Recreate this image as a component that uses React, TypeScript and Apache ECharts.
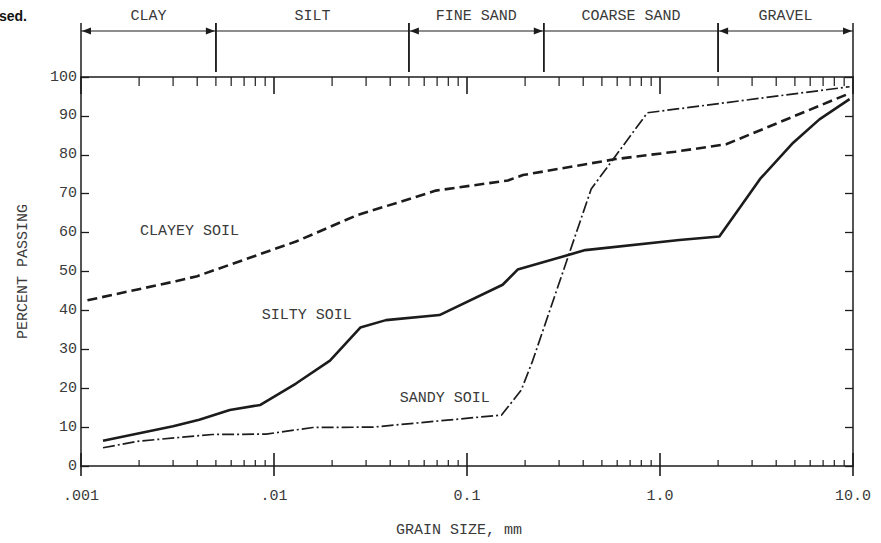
import React, { useEffect, useRef } from 'react';
import * as echarts from 'echarts';

// ---- data (grain size in mm, percent passing) ----
const clayeySize = [0.00108, 0.0031, 0.004, 0.013, 0.027, 0.045, 0.069, 0.163, 0.195, 0.59, 1.2, 2.2, 9.6];
const clayeyPct = [42.6, 47.5, 48.8, 57.7, 64.5, 67.9, 70.8, 73.4, 74.8, 78.9, 80.8, 82.7, 95.8];

const siltySize = [0.0013, 0.003, 0.0041, 0.0059, 0.0085, 0.013, 0.0195, 0.028, 0.038, 0.072, 0.153, 0.183, 0.41, 1.26, 2.03, 2.6, 3.3, 4.9, 6.7, 9.6];
const siltyPct = [6.5, 10.2, 11.9, 14.4, 15.7, 21.2, 27.1, 35.6, 37.5, 38.8, 46.6, 50.5, 55.5, 58.1, 59.0, 66.5, 73.8, 83.1, 89.1, 94.3];

const sandySize = [0.0013, 0.002, 0.0048, 0.0091, 0.0159, 0.0326, 0.151, 0.191, 0.219, 0.44, 0.86, 9.6];
const sandyPct = [4.7, 6.4, 8.1, 8.2, 9.9, 10.0, 13.1, 19.5, 27.1, 71.2, 90.8, 97.5];

const xTickValues = [0.001, 0.01, 0.1, 1, 10];
const xTickLabels = ['.001', '.01', '0.1', '1.0', '10.0'];
const minorTickValues = [
  0.002, 0.003, 0.004, 0.005, 0.006, 0.007, 0.008, 0.009,
  0.02, 0.03, 0.04, 0.05, 0.06, 0.07, 0.08, 0.09,
  0.2, 0.3, 0.4, 0.5, 0.6, 0.7, 0.8, 0.9,
  2, 3, 4, 5, 6, 7, 8, 9,
];

const zoneNames = ['CLAY', 'SILT', 'FINE SAND', 'COARSE SAND', 'GRAVEL'];
const zoneBounds = [0.001, 0.005, 0.05, 0.25, 2, 10];
const zoneArrows = [true, false, true, false, true];

const curveNames = ['CLAYEY SOIL', 'SILTY SOIL', 'SANDY SOIL'];

const X_MIN = 0.001;
const X_MAX = 10;
const INK = '#1c1c1c';
const TEXT = '#3a3a3a';
const MONO = "'Liberation Mono', 'DejaVu Sans Mono', monospace";

const zip = (xs: number[], ys: number[]) => xs.map((x, i) => [x, ys[i]]);

export default function App() {
  const ref = useRef<HTMLDivElement>(null);

  useEffect(() => {
    const chart = echarts.init(ref.current!, null, { renderer: 'svg' });

    const tickData = [
      ...xTickValues.map((v) => [v, 0, 1]),
      ...minorTickValues.map((v) => [v, 0, 0]),
    ];
    const zoneData = zoneNames.map((_, i) => [zoneBounds[i], zoneBounds[i + 1], 100, i]);
    const labelData = [
      [0.00202, 60.3, 0],
      [0.00865, 38.7, 1],
      [0.0448, 17.3, 2],
    ];

    const option: any = {
      animation: false,
      backgroundColor: '#ffffff',
      grid: { left: 81, right: 28, top: 77, bottom: 73, containLabel: false },
      graphic: [
        {
          type: 'text',
          left: -1,
          top: 9,
          style: { text: 'sed.', font: "bold 14px 'Liberation Sans', Arial, sans-serif", fill: '#111' },
        },
      ],
      xAxis: [
        {
          type: 'log',
          logBase: 10,
          min: X_MIN,
          max: X_MAX,
          position: 'bottom',
          axisLine: { show: true, onZero: false, lineStyle: { color: INK, width: 1.5 } },
          axisTick: { show: false },
          splitLine: { show: false },
          axisLabel: {
            margin: 23,
            color: TEXT,
            fontFamily: MONO,
            fontSize: 15,
            formatter: (v: number) => {
              const i = xTickValues.findIndex((t) => Math.abs(Math.log10(t) - Math.log10(v)) < 1e-6);
              return i >= 0 ? xTickLabels[i] : '';
            },
          },
          name: 'GRAIN SIZE, mm',
          nameLocation: 'middle',
          nameGap: 57,
          nameTextStyle: { color: TEXT, fontFamily: MONO, fontSize: 15, padding: [0, 16, 0, 0] },
        },
        {
          type: 'log',
          logBase: 10,
          min: X_MIN,
          max: X_MAX,
          position: 'top',
          axisLine: { show: true, onZero: false, lineStyle: { color: INK, width: 1.5 } },
          axisTick: { show: false },
          axisLabel: { show: false },
          splitLine: { show: false },
        },
      ],
      yAxis: [
        {
          type: 'value',
          min: 0,
          max: 100,
          interval: 10,
          position: 'left',
          axisLine: { show: true, onZero: false, lineStyle: { color: INK, width: 1.5 } },
          axisTick: { show: true, inside: true, length: 8, lineStyle: { color: INK, width: 1.3 } },
          splitLine: { show: false },
          axisLabel: { margin: 4, color: TEXT, fontFamily: MONO, fontSize: 15 },
          name: 'PERCENT PASSING',
          nameLocation: 'middle',
          nameGap: 50,
          nameRotate: 90,
          nameTextStyle: { color: TEXT, fontFamily: MONO, fontSize: 15 },
        },
        {
          type: 'value',
          min: 0,
          max: 100,
          interval: 10,
          position: 'right',
          axisLine: { show: true, onZero: false, lineStyle: { color: INK, width: 1.5 } },
          axisTick: { show: true, inside: true, length: 8, lineStyle: { color: INK, width: 1.3 } },
          axisLabel: { show: false },
          splitLine: { show: false },
        },
      ],
      series: [
        {
          name: 'CLAYEY SOIL',
          type: 'line',
          data: zip(clayeySize, clayeyPct),
          showSymbol: false,
          symbol: 'none',
          lineStyle: { color: INK, width: 2.6, type: [10, 5] },
          z: 5,
        },
        {
          name: 'SILTY SOIL',
          type: 'line',
          data: zip(siltySize, siltyPct),
          showSymbol: false,
          symbol: 'none',
          lineStyle: { color: INK, width: 2.6, type: 'solid' },
          z: 5,
        },
        {
          name: 'SANDY SOIL',
          type: 'line',
          data: zip(sandySize, sandyPct),
          showSymbol: false,
          symbol: 'none',
          lineStyle: { color: INK, width: 1.7, type: [12, 3, 2, 3] },
          z: 5,
        },
        {
          type: 'custom',
          name: 'ticks',
          clip: false,
          silent: true,
          encode: { x: 0, y: 1 },
          data: tickData,
          renderItem: (params: any, api: any) => {
            const v = api.value(0);
            const major = api.value(2) === 1;
            const b = api.coord([v, 0]);
            const t = api.coord([v, 100]);
            const st = { stroke: INK, lineWidth: major ? 1.6 : 1.2 };
            return {
              type: 'group',
              children: [
                { type: 'line', shape: { x1: b[0], y1: b[1] + (major ? 10 : 0), x2: b[0], y2: b[1] - (major ? 13 : 6) }, style: st },
                { type: 'line', shape: { x1: t[0], y1: t[1], x2: t[0], y2: t[1] + (major ? 17 : 9) }, style: st },
              ],
            };
          },
          z: 3,
        },
        {
          type: 'custom',
          name: 'zones',
          clip: false,
          silent: true,
          encode: { x: [0, 1], y: 2 },
          data: zoneData,
          renderItem: (params: any, api: any) => {
            const i = api.value(3);
            const from = api.value(0);
            const to = api.value(1);
            const a = api.coord([from, 100]);
            const b = api.coord([to, 100]);
            const top = a[1];
            const yA = top - 46;
            const yT = top - 54;
            const yB = top - 5;
            const st = { stroke: INK, lineWidth: 1.5 };
            const children: any[] = [
              { type: 'line', shape: { x1: a[0], y1: yA, x2: b[0], y2: yA }, style: { stroke: INK, lineWidth: 1.2 } },
              { type: 'line', shape: { x1: a[0], y1: yT, x2: a[0], y2: from <= X_MIN ? top : yB }, style: st },
              { type: 'line', shape: { x1: b[0], y1: yT, x2: b[0], y2: to >= X_MAX ? top : yB }, style: st },
              {
                type: 'text',
                x: (a[0] + b[0]) / 2,
                y: top - 61,
                style: {
                  text: zoneNames[i],
                  fill: TEXT,
                  font: `15px ${MONO}`,
                  align: 'center',
                  verticalAlign: 'middle',
                },
              },
            ];
            if (zoneArrows[i]) {
              children.push({
                type: 'polygon',
                shape: { points: [[a[0] + 1, yA], [a[0] + 10, yA - 3.5], [a[0] + 10, yA + 3.5]] },
                style: { fill: INK },
              });
              children.push({
                type: 'polygon',
                shape: { points: [[b[0] - 1, yA], [b[0] - 10, yA - 3.5], [b[0] - 10, yA + 3.5]] },
                style: { fill: INK },
              });
            }
            return { type: 'group', children };
          },
          z: 3,
        },
        {
          type: 'custom',
          name: 'curveLabels',
          clip: false,
          silent: true,
          encode: { x: 0, y: 1 },
          data: labelData,
          renderItem: (params: any, api: any) => {
            const p = api.coord([api.value(0), api.value(1)]);
            return {
              type: 'text',
              x: p[0],
              y: p[1],
              style: {
                text: curveNames[api.value(2)],
                fill: TEXT,
                font: `15px ${MONO}`,
                align: 'left',
                verticalAlign: 'middle',
              },
            };
          },
          z: 4,
        },
      ],
    };

    chart.setOption(option);
    return () => chart.dispose();
  }, []);

  return (
    <div
      ref={ref}
      style={{ position: 'fixed', left: 0, top: 0, width: 881, height: 543, background: '#fff' }}
    />
  );
}
